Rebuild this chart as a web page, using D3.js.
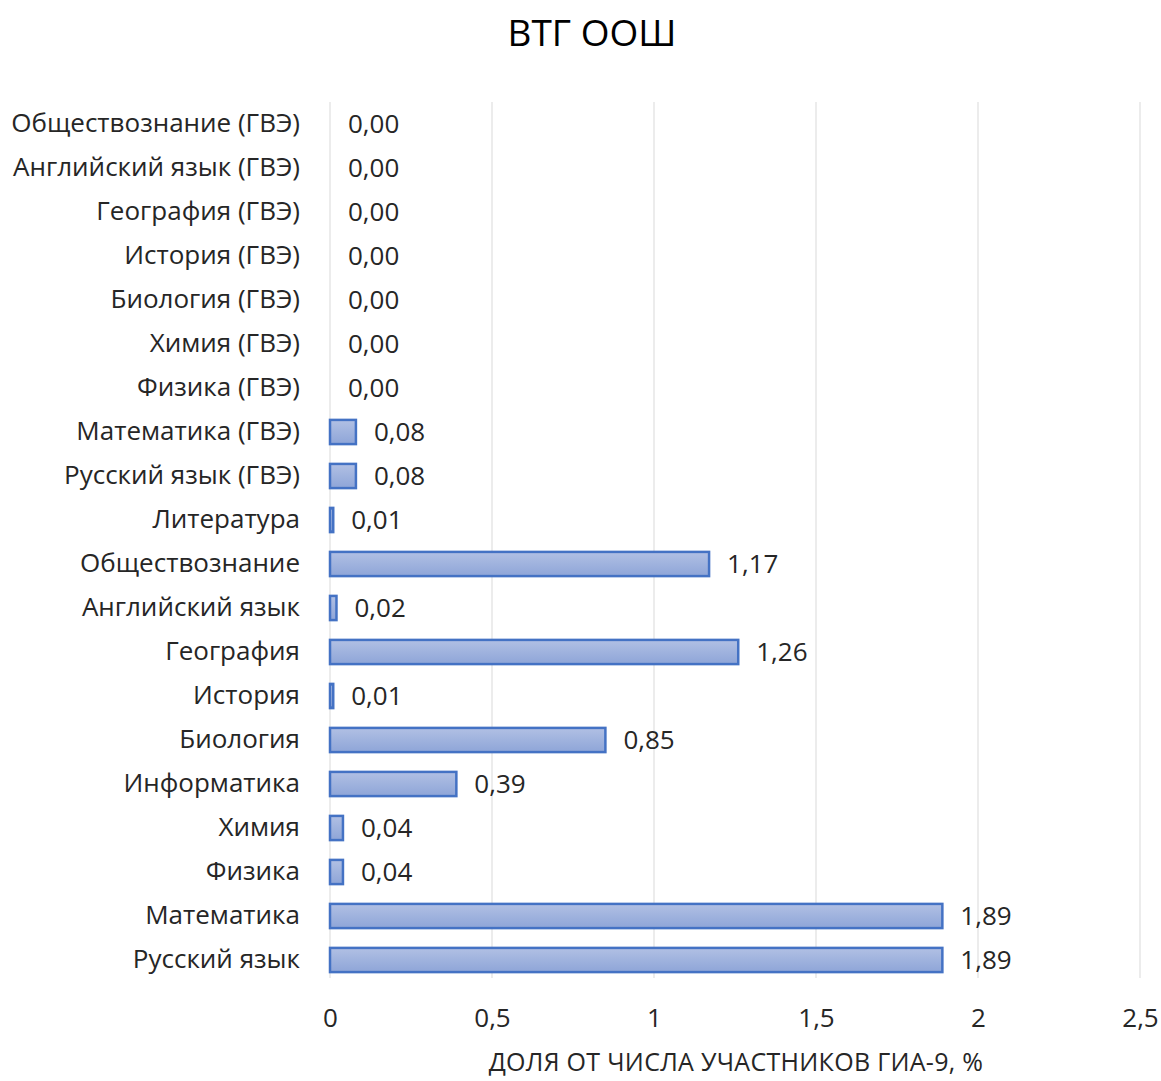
<!DOCTYPE html>
<html>
<head>
<meta charset="utf-8">
<script src="https://cdn.jsdelivr.net/npm/d3@7"></script>
<style>
  body { margin: 0; background: #fff; }
  text { font-family: "Open Sans", "Noto Sans", sans-serif; fill: #262626; }
</style>
</head>
<body>
<div id="chart"></div>
<script>
// данные, сверху вниз как на диаграмме
const predmety = [
  "Обществознание (ГВЭ)", "Английский язык (ГВЭ)", "География (ГВЭ)", "История (ГВЭ)",
  "Биология (ГВЭ)", "Химия (ГВЭ)", "Физика (ГВЭ)", "Математика (ГВЭ)", "Русский язык (ГВЭ)",
  "Литература", "Обществознание", "Английский язык", "География", "История", "Биология",
  "Информатика", "Химия", "Физика", "Математика", "Русский язык"
];
const doli = [0, 0, 0, 0, 0, 0, 0, 0.08, 0.08, 0.01, 1.17, 0.02, 1.26, 0.01, 0.85, 0.39, 0.04, 0.04, 1.89, 1.89];
const tiki = [0, 0.5, 1, 1.5, 2, 2.5];
const zagolovok = "ВТГ ООШ";
const podpisOsi = "ДОЛЯ ОТ ЧИСЛА УЧАСТНИКОВ ГИА-9, %";

const W = 1161, H = 1081;
const margin = { top: 102, right: 21, bottom: 99, left: 330 };
const width = W - margin.left - margin.right;
const height = H - margin.top - margin.bottom;

const fmt = v => v.toFixed(2).replace(".", ",");
const fmtTick = v => String(v).replace(".", ",");

const svg = d3.select("#chart").append("svg")
  .attr("width", W)
  .attr("height", H);

const defs = svg.append("defs");
const grad = defs.append("linearGradient")
  .attr("id", "barGrad")
  .attr("x1", 0).attr("y1", 0).attr("x2", 0).attr("y2", 1);
grad.append("stop").attr("offset", "0%").attr("stop-color", "#b1c0e4");
grad.append("stop").attr("offset", "100%").attr("stop-color", "#8ea5d8");

svg.append("text")
  .attr("x", 592)
  .attr("y", 46)
  .attr("text-anchor", "middle")
  .style("font-size", "37px")
  .style("fill", "#000")
  .text(zagolovok);

const g = svg.append("g")
  .attr("transform", `translate(${margin.left},${margin.top})`);

const x = d3.scaleLinear().domain([0, 2.5]).range([0, width]);
const y = d3.scaleBand().domain(predmety).range([0, height]).paddingInner(0.45).paddingOuter(0.225);

// сетка
g.selectAll(".grid")
  .data(tiki)
  .enter()
  .append("line")
  .attr("x1", d => x(d))
  .attr("x2", d => x(d))
  .attr("y1", 0)
  .attr("y2", height - 4)
  .attr("stroke", "#d9d9d9")
  .attr("stroke-width", 1);

// столбики
g.selectAll(".bar")
  .data(doli)
  .enter()
  .append("rect")
  .attr("x", x(0))
  .attr("y", (d, i) => y(predmety[i]))
  .attr("width", d => x(d))
  .attr("height", y.bandwidth())
  .attr("fill", "url(#barGrad)")
  .attr("stroke", d => d > 0 ? "#4472c4" : "none")
  .attr("stroke-width", 2.5);

// подписи значений
g.selectAll(".val")
  .data(doli)
  .enter()
  .append("text")
  .attr("x", d => x(d) + 18)
  .attr("y", (d, i) => y(predmety[i]) + y.bandwidth() / 2)
  .attr("dy", "0.36em")
  .style("font-size", "26px")
  .text(d => fmt(d));

// подписи категорий
const yAxis = g.append("g")
  .call(d3.axisLeft(y).tickSize(0).tickPadding(30));
yAxis.select(".domain").remove();
yAxis.selectAll("text")
  .style("font-size", "26px")
  .style("font-family", "\"Open Sans\", sans-serif")
  .attr("fill", "#262626");

// ось X
const xAxis = g.append("g")
  .attr("transform", `translate(0,${height})`)
  .call(d3.axisBottom(x).tickValues(tiki).tickFormat(fmtTick).tickSize(0).tickPadding(27));
xAxis.select(".domain").remove();
xAxis.selectAll("text")
  .style("font-size", "26px")
  .style("font-family", "\"Open Sans\", sans-serif")
  .attr("fill", "#262626");

svg.append("text")
  .attr("x", 736)
  .attr("y", 1071)
  .attr("text-anchor", "middle")
  .style("font-size", "25px")
  .style("letter-spacing", "0.3px")
  .text(podpisOsi);
</script>
</body>
</html>
